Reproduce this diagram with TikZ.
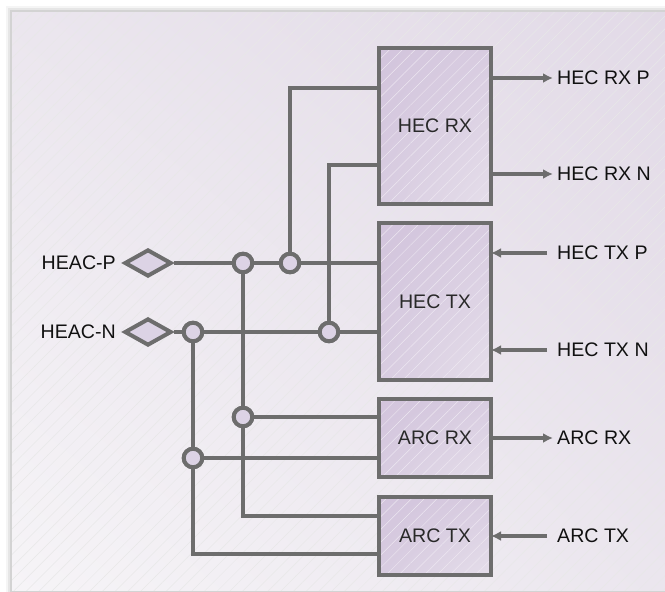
\documentclass[tikz,border=0pt]{standalone}
\usepackage{fontspec}
\setmainfont{Liberation Sans}
\usetikzlibrary{shapes.geometric,arrows.meta,patterns.meta,shadings,calc}
\definecolor{wire}{HTML}{6D6D6D}
\definecolor{panelA}{HTML}{E2DAE7}
\definecolor{panelB}{HTML}{F6F4F7}
\definecolor{panelC}{HTML}{EBE6EE}
\definecolor{boxA}{HTML}{D2C4DC}
\definecolor{boxB}{HTML}{E5DEEA}
\definecolor{dotfill}{HTML}{DCD3E5}
\definecolor{txt}{HTML}{111111}
\begin{document}
\begin{tikzpicture}[x=1pt,y=-1pt,
  font=\fontsize{19.6}{21}\selectfont,
  wireline/.style={draw=wire,line width=4pt},
  blockbox/.style={rectangle,draw=wire,line width=4.6pt,minimum width=112pt,inner sep=0pt,outer sep=0pt,
     upper left=boxA,upper right=boxA!70!boxB,lower left=boxA!70!boxB,lower right=boxB,text=txt!90!white,
     path picture={\fill[pattern={Lines[angle=45,distance=9pt,line width=0.5pt]},pattern color=white!60!boxA]
       (path picture bounding box.south west) rectangle (path picture bounding box.north east);}},
  portdiamond/.style={diamond,draw=wire,line width=4pt,fill=dotfill,minimum width=47pt,minimum height=27pt,aspect=1.74,inner sep=0pt},
  junction/.style={circle,draw=wire,line width=4pt,fill=dotfill,minimum size=18.5pt,inner sep=0pt},
  sig/.style={anchor=west,inner sep=0pt,text=txt},
  outarrow/.style={wireline,-{Latex[length=10pt,width=10pt]},shorten >=4pt},
  inarrow/.style={wireline,-{Latex[length=10pt,width=10pt]},shorten <=10pt}
]
\useasboundingbox (0,0) rectangle (665,592);
% page and shadow
\fill[white] (0,0) rectangle (665,592);
\foreach \s/\o in {6/0.04,4/0.06,2/0.08}{
  \fill[black,opacity=\o] (12-\s,12-\s) rectangle (665,590+\s);
}
\shade[upper right=panelA,upper left=panelC,lower right=panelC,lower left=panelB] (12,12) rectangle (665,590);
\fill[pattern={Lines[angle=45,distance=9pt,line width=0.5pt]},pattern color=black!9] (12,12) rectangle (665,590);

% blocks
\node[blockbox,minimum height=156pt] (hecrx) at (435,126) {HEC RX};
\node[blockbox,minimum height=157pt] (hectx) at (435,301.5) {HEC TX};
\node[blockbox,minimum height=78pt] (arcrx) at (435,438) {ARC RX};
\node[blockbox,minimum height=78pt] (arctx) at (435,536) {ARC TX};

% ports
\node[portdiamond] (hp) at (148,263) {};
\node[portdiamond] (hn) at (148,332) {};
\node[anchor=east,inner sep=0pt,text=txt] (hpl) at (116,263) {HEAC-P};
\node[anchor=east,inner sep=0pt,text=txt] (hnl) at (116,332) {HEAC-N};

% junctions
\node[junction] (c1) at (243,263) {};
\node[junction] (c2) at (290,263) {};
\node[junction] (c3) at (193,332) {};
\node[junction] (c4) at (329,332) {};
\node[junction] (c5) at (243,417) {};
\node[junction] (c6) at (193,458) {};

% entry points on block edges
\coordinate (rxin1) at ([yshift=38pt]hecrx.west);
\coordinate (rxin2) at ([yshift=-39pt]hecrx.west);
\coordinate (atin1) at ([yshift=20pt]arctx.west);
\coordinate (atin2) at ([yshift=-18pt]arctx.west);

% wiring
\draw[wireline] (c1.south) -- (c5.north);
\draw[wireline] (c5.south) |- (atin1);
\draw[wireline] (c3.south) -- (c6.north);
\draw[wireline] (c6.south) |- (atin2);
\draw[wireline] (c2.north) |- (rxin1);
\draw[wireline] (c4.north) |- (rxin2);
\draw[wireline] (hp.east) -- (c1.west);
\draw[wireline] (c1.east) -- (c2.west);
\draw[wireline] (c2.east) -- (c2 -| hectx.west);
\draw[wireline] (hn.east) -- (c3.west);
\draw[wireline] (c3.east) -- (c4.west);
\draw[wireline] (c4.east) -- (c4 -| hectx.west);
\draw[wireline] (c5.east) -- (c5 -| arcrx.west);
\draw[wireline] (c6.east) -- (c6 -| arcrx.west);
% redraw junctions on top of wires
\foreach \j in {c1,c2,c3,c4,c5,c6}{\node[junction] at (\j) {};}

% outputs / inputs
\node[sig] (orxp) at (557,78) {HEC RX P};
\node[sig] (orxn) at (557,174) {HEC RX N};
\node[sig] (itxp) at (557,253) {HEC TX P};
\node[sig] (itxn) at (557,350) {HEC TX N};
\node[sig] (oarx) at (557,438) {ARC RX};
\node[sig] (iatx) at (557,536) {ARC TX};

\draw[outarrow] (orxp -| hecrx.east) -- (orxp.west);
\draw[outarrow] (orxn -| hecrx.east) -- (orxn.west);
\draw[outarrow] (oarx -| arcrx.east) -- (oarx.west);
\draw[inarrow] (itxp.west) -- (itxp -| hectx.east);
\draw[inarrow] (itxn.west) -- (itxn -| hectx.east);
\draw[inarrow] (iatx.west) -- (iatx -| arctx.east);
\end{tikzpicture}
\end{document}
